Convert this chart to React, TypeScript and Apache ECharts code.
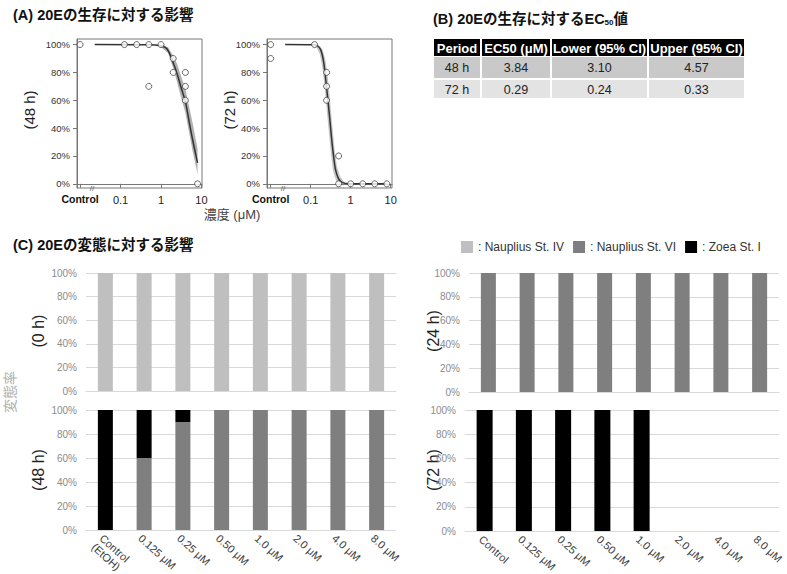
import React, { useEffect, useRef } from 'react';
import * as echarts from 'echarts';

// ---------- Panel A data (survival) ----------
const pctTicks = [0, 20, 40, 60, 80, 100];
const logTicks = [0.01, 0.1, 1, 10];

const surv48Points = [
  [0.01, 100], [0.125, 100], [0.25, 100], [0.5, 100], [0.5, 70], [1, 100],
  [2, 90], [2, 80], [4, 80], [4, 70], [4, 60], [8, 0],
];
const surv72Points = [
  [0.01, 100], [0.01, 90], [0.125, 100], [0.25, 80], [0.25, 70], [0.25, 60],
  [0.5, 20], [0.5, 0], [1, 0], [2, 0], [4, 0], [8, 0],
];

const fit48Conc = [0.023, 0.5, 1, 1.4, 2, 2.5, 3, 4, 5, 6, 8];
const fit48Val = [100, 99.8, 99, 97, 87, 79, 71, 59, 44, 32, 15];
const band48Conc = [0.8, 1, 1.5, 2, 2.5, 3, 4, 5, 6, 8];
const band48Up = [100, 100, 98, 92, 86, 79, 68, 55, 44, 25];
const band48Lo = [100, 98, 94, 83, 73, 64, 51, 36, 24, 7];

const fit72Conc = [0.023, 0.125, 0.15, 0.18, 0.21, 0.24, 0.27, 0.3, 0.33, 0.37, 0.42, 0.5, 0.6, 0.8, 1, 8];
const fit72Val = [100, 99.8, 99, 96, 88, 74, 60, 47, 34, 21, 10, 3.5, 1, 0.2, 0, 0];
const band72Conc = [0.11, 0.14, 0.17, 0.2, 0.23, 0.26, 0.29, 0.32, 0.36, 0.4, 0.45, 0.55, 0.7];
const band72Up = [100, 100, 99, 96, 90, 80, 67, 53, 37, 24, 13, 5, 1];
const band72Lo = [100, 98, 93, 82, 66, 49, 35, 22, 10, 5, 1.5, 0, 0];

// ---------- Panel B data (table) ----------
const tableHeader = ['Period', 'EC50 (μM)', 'Lower (95% CI)', 'Upper (95% CI)'];
const tableRows = [
  ['48 h', '3.84', '3.10', '4.57'],
  ['72 h', '0.29', '0.24', '0.33'],
];

// ---------- Panel C data (metamorphosis) ----------
const catsLeft = ['Control\n(EtOH)', '0.125 μM', '0.25 μM', '0.50 μM', '1.0 μM', '2.0 μM', '4.0 μM', '8.0 μM'];
const catsRight = ['Control', '0.125 μM', '0.25 μM', '0.50 μM', '1.0 μM', '2.0 μM', '4.0 μM', '8.0 μM'];
const stageNames = ['Nauplius St. IV', 'Nauplius St. VI', 'Zoea St. I'];
const stageColors = ['#bfbfbf', '#7f7f7f', '#000000'];

const h0NaupIV = [100, 100, 100, 100, 100, 100, 100, 100];
const h24NaupVI = [100, 100, 100, 100, 100, 100, 100, 100];
const h48NaupVI = [0, 60, 90, 100, 100, 100, 100, 100];
const h48Zoea = [100, 40, 10, 0, 0, 0, 0, 0];
const h72Zoea = [100, 100, 100, 100, 100, null, null, null];

const FONT = '"Liberation Sans", "Noto Sans CJK JP", sans-serif';

function bandRender(conc: number[], up: number[], lo: number[], fill: string) {
  return (params: any, api: any) => {
    if (params.dataIndex !== 0) return null;
    const pts: number[][] = [];
    for (let i = 0; i < conc.length; i++) pts.push(api.coord([conc[i], up[i]]));
    for (let i = conc.length - 1; i >= 0; i--) pts.push(api.coord([conc[i], lo[i]]));
    return { type: 'polygon', shape: { points: pts }, style: { fill }, silent: true };
  };
}

function survXAxis(grid: number, min: number, max: number) {
  return {
    type: 'log', logBase: 10, gridIndex: grid, min, max,
    axisLine: { show: true, lineStyle: { color: '#777' } },
    axisTick: { show: true, length: 4, customValues: logTicks, lineStyle: { color: '#777' } },
    splitLine: { show: false },
    axisLabel: {
      customValues: logTicks, margin: 6, fontSize: 11, color: '#222', fontFamily: FONT,
      formatter: (v: number) => (v < 0.05 ? '{b|Control}' : String(Math.round(v * 1000) / 1000)),
      rich: { b: { fontWeight: 'bold', fontSize: 10.5, color: '#111', fontFamily: FONT } },
    },
  };
}
function survYAxis(grid: number) {
  return {
    type: 'value', gridIndex: grid, min: -3, max: 104,
    axisLine: { show: true, lineStyle: { color: '#777' } },
    axisTick: { show: true, length: 4, customValues: pctTicks, lineStyle: { color: '#777' } },
    splitLine: { show: false },
    axisLabel: { customValues: pctTicks, formatter: '{value}%', fontSize: 9.5, color: '#333', margin: 7, fontFamily: FONT },
  };
}
function barXAxis(grid: number, cats: string[], showLabels: boolean) {
  return {
    type: 'category', gridIndex: grid, data: cats,
    axisLine: { show: true, lineStyle: { color: '#d9d9d9' } },
    axisTick: { show: false },
    axisLabel: {
      show: showLabels, interval: 0, rotate: -42, fontSize: 11, color: '#404040', margin: 2,
      verticalAlign: 'top', fontFamily: FONT, lineHeight: 12,
    },
  };
}
function barYAxis(grid: number) {
  return {
    type: 'value', gridIndex: grid, min: 0, max: 100, interval: 20,
    axisLine: { show: false }, axisTick: { show: false },
    splitLine: { show: true, lineStyle: { color: '#d9d9d9' } },
    axisLabel: { formatter: '{value}%', fontSize: 10, color: '#8c8c8c', margin: 9, fontFamily: FONT },
  };
}

function vText(text: string, x: number, y: number, size: number, fill = '#222') {
  return {
    type: 'text', x, y, rotation: Math.PI / 2,
    style: { text, align: 'center', verticalAlign: 'middle', fontSize: size, fill, fontFamily: FONT },
  };
}

function buildTable() {
  const colX = [433, 481, 551, 648, 745];
  const rowY = [39, 56, 79, 99];
  const rowFill = ['#000000', '#c9c9c9', '#e3e3e3'];
  const els: any[] = [];
  const rows = [tableHeader, ...tableRows];
  rows.forEach((row, r) => {
    row.forEach((cell, c) => {
      const x0 = colX[c] + 1, x1 = colX[c + 1] - 1;
      const y0 = rowY[r] + (r === 0 ? 0 : 1), y1 = rowY[r + 1] - (r === 0 ? 0 : 1);
      els.push({ type: 'rect', shape: { x: x0, y: y0, width: x1 - x0, height: y1 - y0 }, style: { fill: rowFill[r] } });
      els.push({
        type: 'text', x: (x0 + x1) / 2, y: (y0 + y1) / 2 + 0.5,
        style: {
          text: cell, align: 'center', verticalAlign: 'middle', fontFamily: FONT,
          fontSize: r === 0 ? 13 : 12.5, fontWeight: r === 0 ? 'bold' : 'normal', fill: r === 0 ? '#fff' : '#222',
        },
      });
    });
  });
  return els;
}

const gridBase = { containLabel: false, outerBoundsMode: 'none' };

export default function App() {
  const ref = useRef<HTMLDivElement>(null);
  useEffect(() => {
    if (!ref.current) return;
    const chart = echarts.init(ref.current, null, { renderer: 'svg' });
    const titleStyle = { fontSize: 14.5, fontWeight: 'bold', fill: '#111', fontFamily: FONT };
    const boxGrid = { show: true, borderColor: '#777', borderWidth: 1, backgroundColor: 'transparent' };
    const option: any = {
      animation: false,
      backgroundColor: '#fff',
      textStyle: { fontFamily: FONT },
      legend: {
        data: stageNames, left: 461, top: 241, itemWidth: 12, itemHeight: 12, itemGap: 9, icon: 'rect',
        selectedMode: false, padding: 0, formatter: ': {name}',
        textStyle: { fontSize: 12, color: '#333', fontFamily: FONT },
      },
      grid: [
        { ...gridBase, ...boxGrid, left: 77, top: 39, width: 125, height: 149 },
        { ...gridBase, ...boxGrid, left: 267, top: 39, width: 125, height: 149 },
        { ...gridBase, left: 86, top: 273, width: 310, height: 118 },
        { ...gridBase, left: 86, top: 410, width: 310, height: 120 },
        { ...gridBase, left: 469, top: 273, width: 310, height: 119 },
        { ...gridBase, left: 465, top: 410, width: 314, height: 121 },
      ],
      xAxis: [
        survXAxis(0, 0.0084, 10.3),
        survXAxis(1, 0.0081, 10.8),
        barXAxis(2, catsLeft, false),
        barXAxis(3, catsLeft, true),
        barXAxis(4, catsRight, false),
        barXAxis(5, catsRight, true),
      ],
      yAxis: [survYAxis(0), survYAxis(1), barYAxis(2), barYAxis(3), barYAxis(4), barYAxis(5)],
      series: [
        { type: 'custom', xAxisIndex: 0, yAxisIndex: 0, renderItem: bandRender(band48Conc, band48Up, band48Lo, '#b0b0b0'), data: [[band48Conc[0], band48Up[0]]], z: 1, silent: true },
        { type: 'line', xAxisIndex: 0, yAxisIndex: 0, data: fit48Conc.map((c, i) => [c, fit48Val[i]]), showSymbol: false, smooth: 0.3, lineStyle: { color: '#333', width: 1.5 }, z: 2, silent: true },
        { type: 'scatter', xAxisIndex: 0, yAxisIndex: 0, data: surv48Points, symbol: 'circle', symbolSize: 6, itemStyle: { color: '#fff', borderColor: '#444', borderWidth: 1 }, z: 3 },
        { type: 'custom', xAxisIndex: 1, yAxisIndex: 1, renderItem: bandRender(band72Conc, band72Up, band72Lo, '#c4c4c4'), data: [[band72Conc[0], band72Up[0]]], z: 1, silent: true },
        { type: 'line', xAxisIndex: 1, yAxisIndex: 1, data: fit72Conc.map((c, i) => [c, fit72Val[i]]), showSymbol: false, smooth: 0.3, lineStyle: { color: '#333', width: 1.5 }, z: 2, silent: true },
        { type: 'scatter', xAxisIndex: 1, yAxisIndex: 1, data: surv72Points, symbol: 'circle', symbolSize: 6, itemStyle: { color: '#fff', borderColor: '#444', borderWidth: 1 }, z: 3 },
        { name: stageNames[0], type: 'bar', xAxisIndex: 2, yAxisIndex: 2, data: h0NaupIV, barWidth: 15, itemStyle: { color: stageColors[0] } },
        { name: stageNames[1], type: 'bar', xAxisIndex: 4, yAxisIndex: 4, data: h24NaupVI, barWidth: 15, itemStyle: { color: stageColors[1] } },
        { name: stageNames[1], type: 'bar', xAxisIndex: 3, yAxisIndex: 3, data: h48NaupVI, stack: 's48', barWidth: 15, itemStyle: { color: stageColors[1] } },
        { name: stageNames[2], type: 'bar', xAxisIndex: 3, yAxisIndex: 3, data: h48Zoea, stack: 's48', barWidth: 15, itemStyle: { color: stageColors[2] } },
        { name: stageNames[2], type: 'bar', xAxisIndex: 5, yAxisIndex: 5, data: h72Zoea, barWidth: 16, itemStyle: { color: stageColors[2] } },
      ],
      graphic: [
        { type: 'text', x: 13, y: 15, style: { text: '(A) 20Eの生存に対する影響', verticalAlign: 'middle', ...titleStyle } },
        {
          type: 'text', x: 433, y: 19,
          style: {
            text: '{a|(B) 20Eの生存に対するEC}{s|50}{a|値}', verticalAlign: 'middle', fontFamily: FONT,
            rich: {
              a: { fontSize: 14.5, fontWeight: 'bold', fill: '#111', fontFamily: FONT },
              s: { fontSize: 8, fontWeight: 'bold', fill: '#111', fontFamily: FONT, padding: [7, 0, 0, 0] },
            },
          },
        },
        { type: 'text', x: 13, y: 245, style: { text: '(C) 20Eの変態に対する影響', verticalAlign: 'middle', ...titleStyle } },
        vText('(48 h)', 29, 110, 15),
        vText('(72 h)', 229, 110, 15),
        { type: 'text', x: 232, y: 214, style: { text: '濃度 (μM)', align: 'center', verticalAlign: 'middle', fontSize: 13, fill: '#444', fontFamily: FONT } },
        { type: 'text', x: 92, y: 188, style: { text: '//', align: 'center', verticalAlign: 'middle', fontSize: 8, fill: '#555', fontFamily: FONT } },
        { type: 'text', x: 283, y: 188, style: { text: '//', align: 'center', verticalAlign: 'middle', fontSize: 8, fill: '#555', fontFamily: FONT } },
        vText('(0 h)', 38, 331, 16),
        vText('(48 h)', 38, 470, 16),
        vText('(24 h)', 433, 331, 16),
        vText('(72 h)', 433, 470, 16),
        vText('変態率', 10, 392, 14, '#b0b0b0'),
        ...buildTable(),
      ],
    };
    chart.setOption(option);
    return () => chart.dispose();
  }, []);
  return <div ref={ref} style={{ position: 'absolute', left: 0, top: 0, width: 787, height: 574, background: '#fff' }} />;
}
